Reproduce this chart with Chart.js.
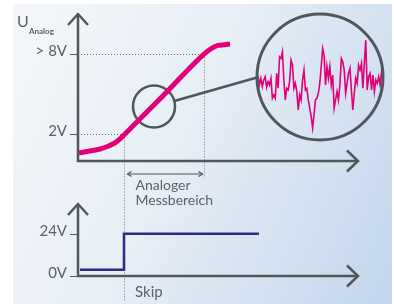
<!DOCTYPE html>
<html>
<head>
<meta charset="utf-8">
<script src="https://cdn.jsdelivr.net/npm/chart.js@4"></script>
<style>
  body { margin: 0; background: #fff; }
  #wrap { position: relative; width: 394px; height: 304px; overflow: hidden; }
  #panel { position: absolute; left: 13px; top: 4px; width: 379px; height: 300px;
    background: linear-gradient(115deg, #f5f7fa 0%, #e7eef6 45%, #c3d6ec 100%); }
  canvas { position: absolute; left: 0; top: 0; }
</style>
</head>
<body>
<div id="wrap">
  <div id="panel"></div>
  <canvas id="top" width="394" height="304"></canvas>
  <canvas id="noise" width="394" height="304"></canvas>
  <canvas id="bottom" width="394" height="304"></canvas>
</div>
<script>
// analog output (top diagram)
const curveTime = [0.5, 6, 11, 15, 18.5, 21, 23, 43, 63, 67, 70, 73, 76]
const curveVolt = [0.6, 0.75, 0.9, 1.1, 1.35, 1.65, 1.95, 4.95, 8.0, 8.45, 8.65, 8.7, 8.75]
const topTicks = [2, 8]
const topTickLabels = ['2V', '> 8V']
const rangeStart = 23
const rangeEnd = 63

// switching output (bottom diagram)
const skipTime = [1, 23, 23, 90.5]
const skipVolt = [3.5, 3.5, 24, 24]
const bottomTicks = [0, 24]
const bottomTickLabels = ['0V', '24V']

// signal noise seen through the magnifier
const noise = [1.2, -1.5, 0.5, -2.0, 0.0, 1.0, -2.2, -0.5, -1.5, 0.5, -5.5, -4.5, -5.5, 2.0, -2.5, 7.0, 6.5, 8.5,
  0.0, -6.0, -2.5, -3.0, -0.5, 6.0, 4.5, -2.5, -1.0, -3.5, -9.0, -4.5, -6.0, 0.0, 3.0, -3.0, -2.5, -6.0, -8.5,
  -11.0, -14.5, -10.5, -6.0, -5.5, -4.0, -1.0, 4.0, 9.5, 7.5, -1.5, 4.0, 0.5, 4.0, -1.5, 1.5, -8.5, -6.0, -3.5,
  -6.0, -1.5, 6.5, 5.5, 3.0, -4.0, -1.0, 2.0, 3.5, -3.0, -9.0, -4.0, 0.5, -1.0, 4.5, 3.0, 5.0, -2.5, 5.0, 12.0,
  -3.0, 1.0, 2.0, -3.0, 1.5, -3.5, 0.0, -1.0, 1.0, -1.5, 2.5, -0.5]

const magenta = '#e2007a'
const navy = '#2d2a87'
const grey = '#4f575b'
const textGrey = '#5b6267'
const font = 'Lato, "Open Sans", sans-serif'

function chevron(ctx, x, y, dx, dy, len, w) {
  ctx.beginPath()
  ctx.moveTo(x - dx * len - dy * w, y - dy * len + dx * w)
  ctx.lineTo(x, y)
  ctx.lineTo(x - dx * len + dy * w, y - dy * len - dx * w)
  ctx.stroke()
}

function axes(ctx, chart, ticks, labels) {
  const xs = chart.scales.x, ys = chart.scales.y
  const x0 = xs.getPixelForValue(0), y0 = ys.getPixelForValue(0)
  const top = chart.chartArea.top, right = chart.chartArea.right
  ctx.save()
  ctx.strokeStyle = grey
  ctx.lineWidth = 2.5
  ctx.beginPath()
  ctx.moveTo(x0, top + 1)
  ctx.lineTo(x0, y0)
  ctx.lineTo(right - 1, y0)
  ctx.stroke()
  chevron(ctx, x0, top, 0, -1, 11, 10)
  chevron(ctx, right, y0, 1, 0, 11, 10.5)
  ctx.lineWidth = 1
  ctx.fillStyle = textGrey
  ctx.font = '15px ' + font
  ctx.textAlign = 'right'
  ticks.forEach((v, i) => {
    const y = Math.round(ys.getPixelForValue(v)) + 0.5
    ctx.beginPath()
    ctx.moveTo(x0 - 8, y)
    ctx.lineTo(x0, y)
    ctx.stroke()
    ctx.fillText(labels[i], x0 - 11, y + 1.5)
  })
  ctx.restore()
}

function dotted(ctx, x1, y1, x2, y2) {
  ctx.save()
  ctx.strokeStyle = '#6a7074'
  ctx.lineWidth = 1
  ctx.setLineDash([1, 2])
  ctx.beginPath()
  ctx.moveTo(x1, y1)
  ctx.lineTo(x2, y2)
  ctx.stroke()
  ctx.restore()
}

const topDecor = {
  id: 'topDecor',
  beforeDatasetsDraw(chart) {
    const ctx = chart.ctx, xs = chart.scales.x, ys = chart.scales.y
    const x0 = xs.getPixelForValue(0)
    const xa = Math.round(xs.getPixelForValue(rangeStart)) + 0.5
    const xb = Math.round(xs.getPixelForValue(rangeEnd)) + 0.5
    const ya = Math.round(ys.getPixelForValue(2)) + 0.5
    const yb = Math.round(ys.getPixelForValue(8)) + 0.5
    dotted(ctx, x0, yb, xb, yb)
    dotted(ctx, x0, ya, xa, ya)
    dotted(ctx, xa, ya, xa, 302)
    dotted(ctx, xb, yb, xb, 178)

    // range marker
    ctx.save()
    ctx.strokeStyle = grey
    ctx.lineWidth = 1.2
    ctx.beginPath()
    ctx.moveTo(xa + 3, 174)
    ctx.lineTo(xb - 2, 174)
    ctx.stroke()
    chevron(ctx, xa + 3, 174, -1, 0, 4, 2.5)
    chevron(ctx, xb - 2, 174, 1, 0, 4, 2.5)
    ctx.fillStyle = textGrey
    ctx.font = '14px ' + font
    ctx.fillText('Analoger', xa + 11, 190)
    ctx.fillText('Messbereich', xa + 11, 205)

    // magnifier on the curve
    const cx = xs.getPixelForValue(38), cy = ys.getPixelForValue(4.08)
    ctx.lineWidth = 2.5
    ctx.beginPath()
    ctx.arc(cx, cy, 21, 0, Math.PI * 2)
    ctx.stroke()
    const a = -15 * Math.PI / 180
    ctx.beginPath()
    ctx.moveTo(cx + 21 * Math.cos(a), cy + 21 * Math.sin(a))
    ctx.lineTo(257, 77.5)
    ctx.stroke()
    ctx.restore()
  },
  afterDatasetsDraw(chart) {
    const ctx = chart.ctx
    axes(ctx, chart, topTicks, topTickLabels)
    ctx.save()
    ctx.fillStyle = textGrey
    ctx.font = '16px ' + font
    ctx.fillText('U', 17, 27)
    ctx.font = 'bold 8px ' + font
    ctx.fillText('Analog', 29, 34)
    ctx.restore()
  }
}

const bottomDecor = {
  id: 'bottomDecor',
  afterDatasetsDraw(chart) {
    const ctx = chart.ctx
    axes(ctx, chart, bottomTicks, bottomTickLabels)
    ctx.save()
    ctx.fillStyle = textGrey
    ctx.font = '15px ' + font
    ctx.fillText('Skip', chart.scales.x.getPixelForValue(rangeStart) + 11, 297)
    ctx.restore()
  }
}

const lens = {
  id: 'lens',
  afterDatasetsDraw(chart) {
    const ctx = chart.ctx
    ctx.save()
    ctx.strokeStyle = grey
    ctx.lineWidth = 3
    ctx.beginPath()
    ctx.arc(320, 77, 63, 0, Math.PI * 2)
    ctx.stroke()
    ctx.restore()
  }
}

function baseOptions(pad, xmin, xmax, ymin, ymax) {
  return {
    responsive: false,
    animation: false,
    devicePixelRatio: 1,
    layout: { padding: pad, autoPadding: false },
    plugins: { legend: { display: false }, tooltip: { enabled: false } },
    scales: {
      x: { type: 'linear', display: false, min: xmin, max: xmax },
      y: { type: 'linear', display: false, min: ymin, max: ymax }
    }
  }
}

new Chart(document.querySelector('#top'), {
  type: 'line',
  data: {
    datasets: [{
      data: curveTime.map((t, i) => ({ x: t, y: curveVolt[i] })),
      borderColor: magenta,
      borderWidth: 5,
      borderCapStyle: 'butt',
      cubicInterpolationMode: 'monotone',
      pointRadius: 0,
      clip: false
    }]
  },
  options: baseOptions({ left: 78, right: 36, top: 14, bottom: 143 }, 0, 140, 0, 11),
  plugins: [topDecor]
})

new Chart(document.querySelector('#noise'), {
  type: 'line',
  data: {
    datasets: [{
      data: noise.map((v, i) => ({ x: i, y: v })),
      borderColor: magenta,
      borderWidth: 1.6,
      tension: 0,
      pointRadius: 0,
      clip: false
    }]
  },
  options: baseOptions({ left: 258, right: 11, top: 17, bottom: 161 }, 0, noise.length - 1, -19, 19),
  plugins: [lens]
})

new Chart(document.querySelector('#bottom'), {
  type: 'line',
  data: {
    datasets: [{
      data: skipTime.map((t, i) => ({ x: t, y: skipVolt[i] })),
      borderColor: navy,
      borderWidth: 2.5,
      borderJoinStyle: 'miter',
      tension: 0,
      pointRadius: 0,
      clip: false
    }]
  },
  options: baseOptions({ left: 78, right: 36, top: 204, bottom: 28 }, 0, 140, 0, 41),
  plugins: [bottomDecor]
})
</script>
</body>
</html>
